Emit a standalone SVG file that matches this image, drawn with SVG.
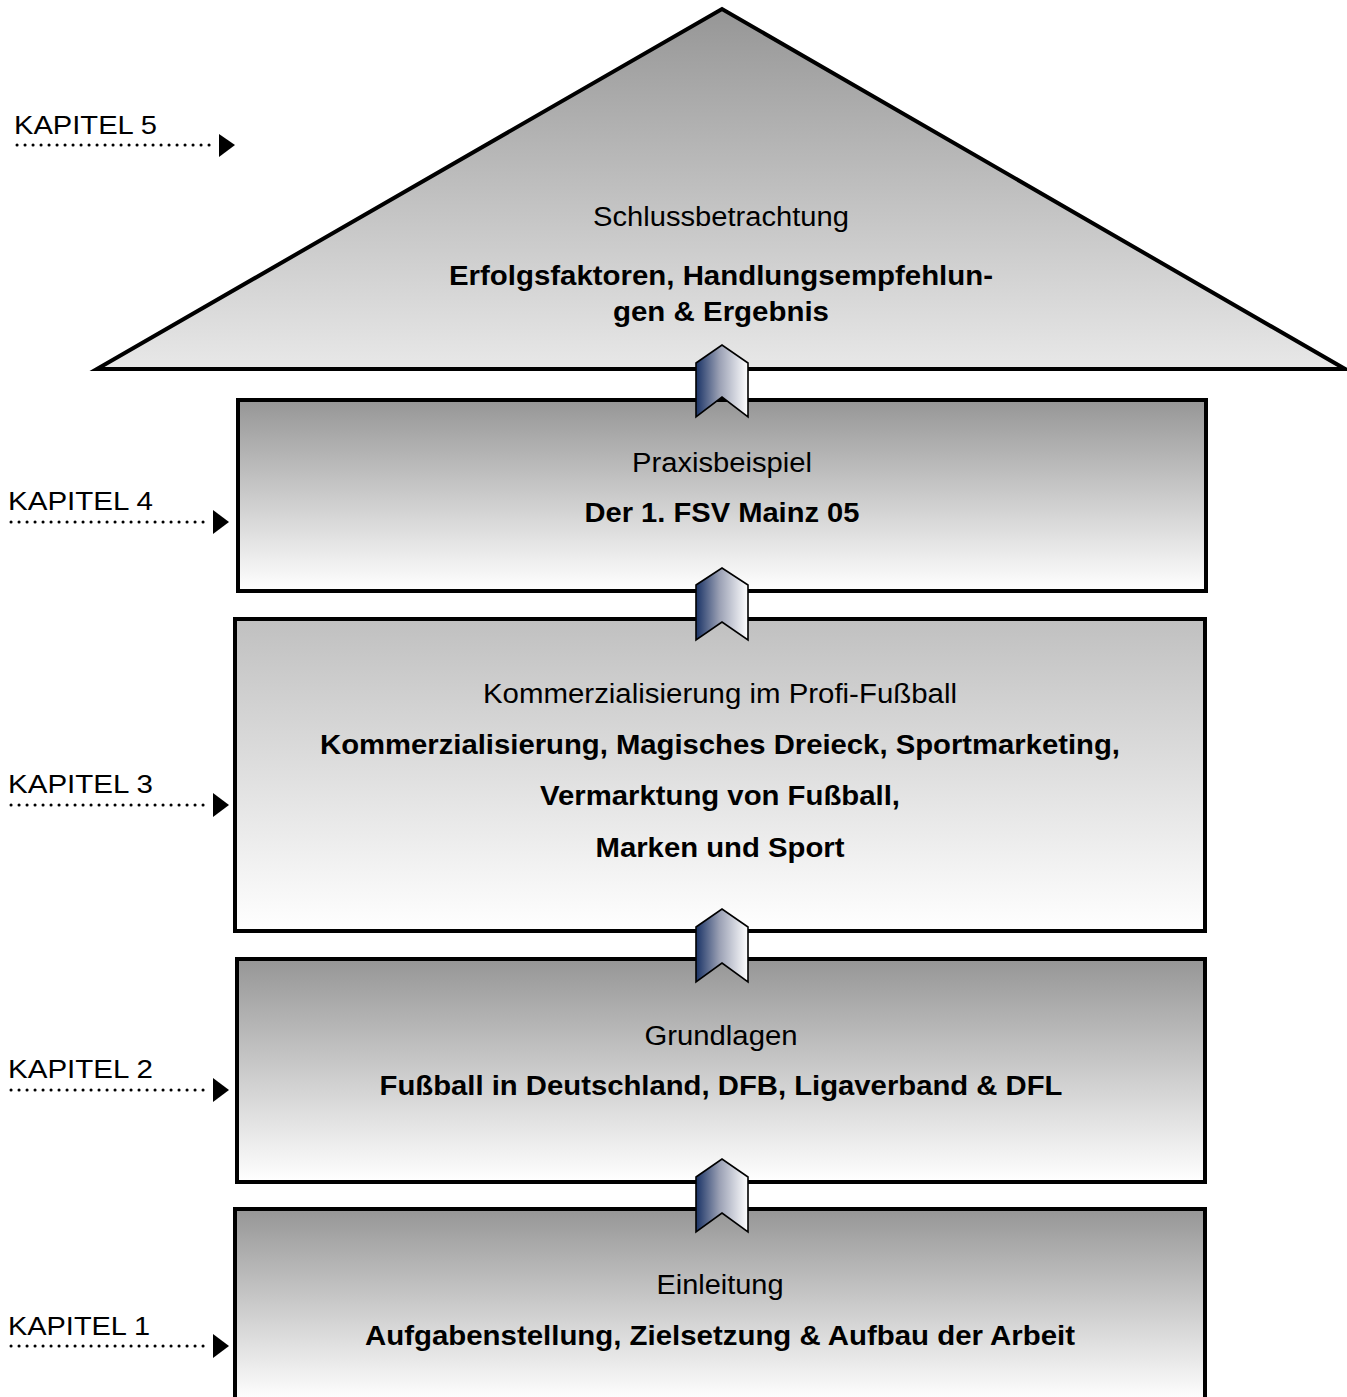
<svg xmlns="http://www.w3.org/2000/svg" width="1347" height="1397" viewBox="0 0 1347 1397">
<defs>
<linearGradient id="gRoof" x1="0" y1="0" x2="0" y2="1"><stop offset="0" stop-color="#969696"/><stop offset="1" stop-color="#e8e8e8"/></linearGradient>
<linearGradient id="gBox" x1="0" y1="0" x2="0" y2="1"><stop offset="0" stop-color="#969696"/><stop offset="1" stop-color="#ffffff"/></linearGradient>
<linearGradient id="gBoxL" x1="0" y1="0" x2="0" y2="1"><stop offset="0" stop-color="#c0c0c0"/><stop offset="1" stop-color="#ffffff"/></linearGradient>
<linearGradient id="gChev" x1="0" y1="0" x2="1" y2="0"><stop offset="0" stop-color="#1a3366"/><stop offset="0.45" stop-color="#9aa0b4"/><stop offset="1" stop-color="#ffffff"/></linearGradient>
</defs>
<style>
.box{stroke:#000;stroke-width:4}
.chev{fill:url(#gChev);stroke:#000;stroke-width:1.6;stroke-linejoin:miter}
.t{font-family:"Liberation Sans",Arial,sans-serif;font-size:27px;fill:#000;text-anchor:middle}
.b{font-weight:bold}
.k{font-family:"Liberation Sans",Arial,sans-serif;font-size:26px;fill:#000}
.dot{stroke:#000;stroke-width:3;stroke-linecap:round;stroke-dasharray:0.1 7.9;fill:none}
.ah{fill:#000}
</style>

<g id="roof">
<polygon points="97,369 722,9 1345,369" fill="url(#gRoof)" stroke="#000" stroke-width="4" stroke-linejoin="miter"/>
<text class="t" x="721" y="226" textLength="256" lengthAdjust="spacingAndGlyphs">Schlussbetrachtung</text>
<text class="t b" x="721" y="285" textLength="544" lengthAdjust="spacingAndGlyphs">Erfolgsfaktoren, Handlungsempfehlun-</text>
<text class="t b" x="721" y="321" textLength="216" lengthAdjust="spacingAndGlyphs">gen &amp; Ergebnis</text>
</g>

<g id="kapitel4">
<rect class="box" x="238" y="400" width="968" height="191" fill="url(#gBox)"/>
<text class="t" x="722" y="472" textLength="180" lengthAdjust="spacingAndGlyphs">Praxisbeispiel</text>
<text class="t b" x="722" y="522" textLength="275" lengthAdjust="spacingAndGlyphs">Der 1. FSV Mainz 05</text>
</g>

<g id="kapitel3">
<rect class="box" x="235" y="619" width="970" height="312" fill="url(#gBoxL)"/>
<text class="t" x="720" y="703" textLength="474" lengthAdjust="spacingAndGlyphs">Kommerzialisierung im Profi-Fußball</text>
<text class="t b" x="720" y="754" textLength="800" lengthAdjust="spacingAndGlyphs">Kommerzialisierung, Magisches Dreieck, Sportmarketing,</text>
<text class="t b" x="720" y="805" textLength="360" lengthAdjust="spacingAndGlyphs">Vermarktung von Fußball,</text>
<text class="t b" x="720" y="857" textLength="249" lengthAdjust="spacingAndGlyphs">Marken und Sport</text>
</g>

<g id="kapitel2">
<rect class="box" x="237" y="959" width="968" height="223" fill="url(#gBox)"/>
<text class="t" x="721" y="1045" textLength="153" lengthAdjust="spacingAndGlyphs">Grundlagen</text>
<text class="t b" x="721" y="1095" textLength="683" lengthAdjust="spacingAndGlyphs">Fußball in Deutschland, DFB, Ligaverband &amp; DFL</text>
</g>

<g id="kapitel1">
<rect class="box" x="235" y="1209" width="970" height="192" fill="url(#gBox)"/>
<text class="t" x="720" y="1294" textLength="127" lengthAdjust="spacingAndGlyphs">Einleitung</text>
<text class="t b" x="720" y="1345" textLength="710" lengthAdjust="spacingAndGlyphs">Aufgabenstellung, Zielsetzung &amp; Aufbau der Arbeit</text>
</g>

<g id="connectors">
<polygon class="chev" points="696,363 722,345 748,363 748,417 722,397 696,417"/>
<polygon class="chev" points="696,585 722,568 748,585 748,640 722,622 696,640"/>
<polygon class="chev" points="696,927 722,909 748,927 748,982 722,963 696,982"/>
<polygon class="chev" points="696,1177 722,1159 748,1177 748,1232 722,1213 696,1232"/>
</g>

<g id="labels">
<text class="k" x="14" y="134" textLength="143" lengthAdjust="spacingAndGlyphs">KAPITEL 5</text>
<line class="dot" x1="17" y1="145" x2="217" y2="145"/>
<polygon class="ah" points="219,134 235,145 219,157"/>

<text class="k" x="8" y="510" textLength="145" lengthAdjust="spacingAndGlyphs">KAPITEL 4</text>
<line class="dot" x1="11" y1="522" x2="211" y2="522"/>
<polygon class="ah" points="213,510 229,522 213,534"/>

<text class="k" x="8" y="793" textLength="145" lengthAdjust="spacingAndGlyphs">KAPITEL 3</text>
<line class="dot" x1="11" y1="805" x2="211" y2="805"/>
<polygon class="ah" points="213,793 229,805 213,817"/>

<text class="k" x="8" y="1078" textLength="145" lengthAdjust="spacingAndGlyphs">KAPITEL 2</text>
<line class="dot" x1="11" y1="1090" x2="211" y2="1090"/>
<polygon class="ah" points="213,1078 229,1090 213,1102"/>

<text class="k" x="8" y="1335" textLength="142" lengthAdjust="spacingAndGlyphs">KAPITEL 1</text>
<line class="dot" x1="11" y1="1346" x2="211" y2="1346"/>
<polygon class="ah" points="213,1334 229,1346 213,1358"/>
</g>
</svg>
